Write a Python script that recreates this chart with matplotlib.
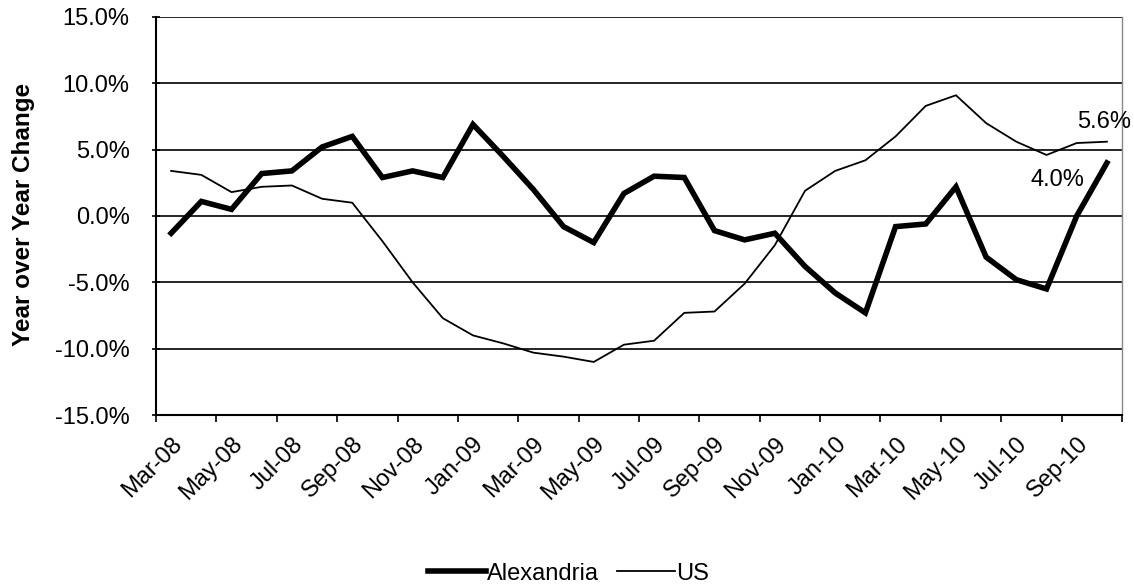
import matplotlib
matplotlib.use("Agg")
import matplotlib.pyplot as plt
from matplotlib.lines import Line2D
from matplotlib.ticker import FixedLocator, FuncFormatter

plt.rcParams['font.family'] = ['Liberation Sans', 'DejaVu Sans']

# monthly year-over-year change, Mar-08 .. Oct-10
months = ['Mar-08', 'Apr-08', 'May-08', 'Jun-08', 'Jul-08', 'Aug-08', 'Sep-08', 'Oct-08',
          'Nov-08', 'Dec-08', 'Jan-09', 'Feb-09', 'Mar-09', 'Apr-09', 'May-09', 'Jun-09',
          'Jul-09', 'Aug-09', 'Sep-09', 'Oct-09', 'Nov-09', 'Dec-09', 'Jan-10', 'Feb-10',
          'Mar-10', 'Apr-10', 'May-10', 'Jun-10', 'Jul-10', 'Aug-10', 'Sep-10', 'Oct-10']
alexandria = [-1.3, 1.1, 0.5, 3.2, 3.4, 5.2, 6.0, 2.9, 3.4, 2.9, 6.9, 4.5, 2.0, -0.8,
              -2.0, 1.7, 3.0, 2.9, -1.1, -1.8, -1.3, -3.8, -5.8, -7.3, -0.8, -0.6,
              2.2, -3.1, -4.8, -5.5, 0.0, 4.0]
us = [3.4, 3.1, 1.8, 2.2, 2.3, 1.3, 1.0, -1.9, -5.0, -7.7, -9.0, -9.6, -10.3, -10.6,
      -11.0, -9.7, -9.4, -7.3, -7.2, -5.1, -2.2, 1.9, 3.4, 4.2, 6.0, 8.3, 9.1, 7.0,
      5.6, 4.6, 5.5, 5.6]

FS = 17

fig = plt.figure(figsize=(11.34, 5.86), dpi=100)
ax = fig.add_axes([0.1376, 0.2918, 0.8518, 0.6792])

x = list(range(len(months)))
ax.plot(x, alexandria, color='black', lw=4.0, solid_joinstyle='miter', zorder=3)
ax.plot(x, us, color='black', lw=1.3, zorder=3)

ax.set_xlim(-0.5, len(months) - 0.5)
ax.set_ylim(-15, 15)
ax.set_yticks(range(-15, 16, 5))
ax.yaxis.set_major_formatter(FuncFormatter(lambda v, p: f'{v:.1f}%'))
ax.grid(axis='y', color='black', lw=1.2)
ax.set_axisbelow(True)

# tick marks between categories, labels on every second month
ax.xaxis.set_major_locator(FixedLocator([i - 0.5 for i in range(0, len(months) + 1, 2)]))
ax.xaxis.set_major_formatter(FuncFormatter(lambda v, p: ''))
ax.xaxis.set_minor_locator(FixedLocator(range(0, len(months), 2)))
ax.set_xticklabels(months[::2], minor=True, rotation=45, ha='right', va='top',
                   rotation_mode='anchor', fontsize=FS)
ax.tick_params(axis='x', which='minor', length=0, pad=13)
ax.tick_params(axis='x', which='major', length=5, width=1.2, color='black')
ax.tick_params(axis='y', labelsize=FS, length=6, width=1.2, direction='inout', pad=16)

for s in ['left', 'bottom']:
    ax.spines[s].set_linewidth(1.5)
ax.spines['top'].set_visible(False)
ax.spines['right'].set_color('#888888')
ax.spines['right'].set_linewidth(1.0)

fig.text(24 / 1134, 1 - 214 / 586, 'Year over Year Change', rotation=90,
         ha='center', va='center', fontsize=17.5, fontweight='bold')

ax.annotate(f'{us[-1]:.1f}%', xy=(x[-1], us[-1]), xytext=(-2, 14),
            textcoords='offset points', ha='center', va='center', fontsize=FS)
ax.annotate(f'{alexandria[-1]:.1f}%', xy=(x[-1], alexandria[-1]), xytext=(-16, -12),
            textcoords='offset points', ha='right', va='center', fontsize=FS)

handles = [Line2D([], [], color='black', lw=4.0), Line2D([], [], color='black', lw=1.3)]
fig.legend(handles, ['Alexandria', 'US'], loc='center', bbox_to_anchor=(0.5013, 0.021),
           ncol=2, frameon=False, fontsize=FS, handlelength=2.45,
           handletextpad=0.05, columnspacing=0.75, borderpad=0.1)

fig.savefig('out.png', dpi=100)
